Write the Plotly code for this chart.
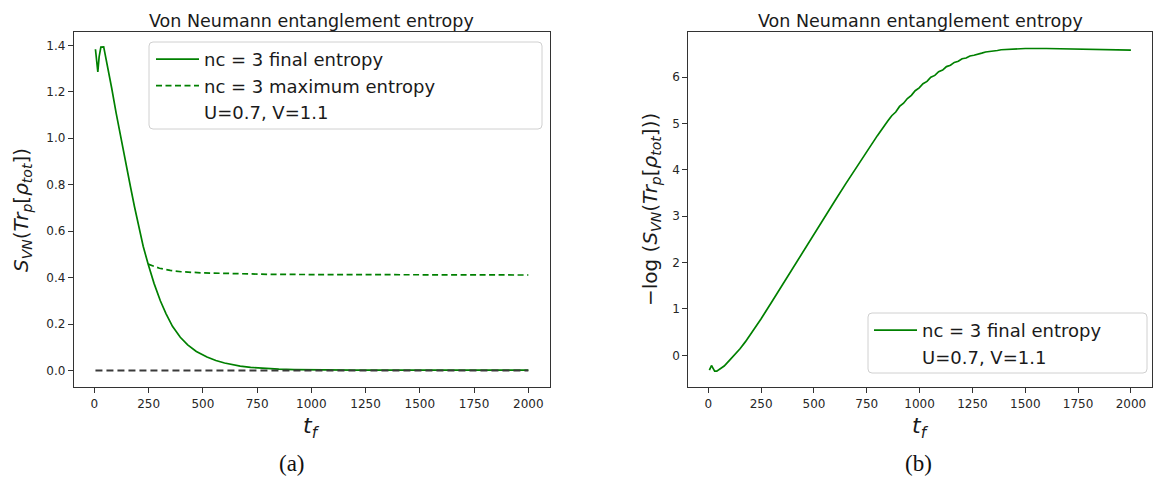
import plotly.graph_objects as go

# ---------------- data ----------------
# (a) final entropy S_VN vs t_f
tf_final = [5, 10, 16, 22, 30, 43, 55, 67, 80, 100, 117, 134, 150, 166, 185, 205, 225, 248,
            275, 304, 330, 360, 396, 430, 470, 519, 560, 600, 640, 672, 720, 780, 850, 920,
            1000, 1200, 1500, 2000]
s_final = [1.383, 1.33, 1.285, 1.35, 1.392, 1.393, 1.34, 1.287, 1.215, 1.11, 1.025, 0.94,
           0.866, 0.793, 0.705, 0.618, 0.535, 0.457, 0.375, 0.30, 0.245, 0.19, 0.143, 0.11,
           0.082, 0.058, 0.043, 0.032, 0.024, 0.019, 0.013, 0.009, 0.006, 0.004, 0.0028,
           0.0017, 0.0013, 0.0014]
# (a) maximum entropy
tf_max = [248, 275, 300, 350, 400, 500, 600, 800, 1000, 1500, 2000]
s_max = [0.458, 0.447, 0.44, 0.431, 0.425, 0.42, 0.417, 0.414, 0.413, 0.412, 0.411]
# (a) zero reference
tf_zero = [5, 2000]
s_zero = [0.0, 0.0]

# (b) -log(S_VN) vs t_f
tf_log = [5, 10, 15, 20, 25, 30, 40, 50, 75, 100, 125, 150, 175, 200, 250, 300, 350, 400,
          450, 500, 550, 600, 650, 700, 750, 800, 850, 868, 887, 905, 924, 942, 961, 979,
          998, 1016, 1035, 1053, 1072, 1090, 1109, 1127, 1146, 1164, 1183, 1201, 1220,
          1238, 1257, 1275, 1294, 1312, 1331, 1349, 1368, 1386, 1405, 1450, 1500, 1600,
          1700, 1800, 1900, 2000]
neglog_s = [-0.32, -0.27, -0.22, -0.26, -0.32, -0.34, -0.34, -0.31, -0.23, -0.11, 0.01,
            0.14, 0.29, 0.45, 0.79, 1.15, 1.52, 1.88, 2.25, 2.61, 2.98, 3.34, 3.70, 4.05,
            4.40, 4.74, 5.06, 5.17, 5.25, 5.37, 5.44, 5.54, 5.61, 5.71, 5.77, 5.86, 5.91,
            6.00, 6.04, 6.12, 6.155, 6.23, 6.26, 6.32, 6.345, 6.40, 6.415, 6.46, 6.475,
            6.505, 6.52, 6.545, 6.553, 6.572, 6.578, 6.593, 6.60, 6.615, 6.62, 6.62, 6.615,
            6.605, 6.595, 6.585]

x_ticks = [0, 250, 500, 750, 1000, 1250, 1500, 1750, 2000]
y_ticks_a = [0.0, 0.2, 0.4, 0.6, 0.8, 1.0, 1.2, 1.4]
y_ticks_b = [0, 1, 2, 3, 4, 5, 6]

title_text = "Von Neumann entanglement entropy"
param_text = "U=0.7, V=1.1"

# ---------------- figure ----------------
# the page body has an 8px margin, so the figure is drawn 8px in from the top-left
OFF = 8
W, H = 1173 - OFF, 478 - OFF
GREEN = "#008000"
FONT = "DejaVu Sans"
TXT = "#1a1a1a"


def px_x(p):
    return (p - OFF) / W


def px_y(p):
    return 1 - (p - OFF) / H


fig = go.Figure()

fig.add_trace(go.Scatter(x=tf_final, y=s_final, mode="lines", name="nc = 3 final entropy",
                         line=dict(color=GREEN, width=1.7), xaxis="x", yaxis="y",
                         legend="legend"))
fig.add_trace(go.Scatter(x=tf_max, y=s_max, mode="lines", name="nc = 3 maximum entropy",
                         line=dict(color=GREEN, width=1.7, dash="6px,3.5px"), xaxis="x", yaxis="y",
                         legend="legend"))
fig.add_trace(go.Scatter(x=tf_zero, y=s_zero, mode="lines", showlegend=False,
                         line=dict(color="#3a3a3a", width=2, dash="7px,4px"), xaxis="x", yaxis="y"))
fig.add_trace(go.Scatter(x=[None], y=[None], mode="lines", name=param_text,
                         line=dict(color="rgba(0,0,0,0)", width=1.6), xaxis="x", yaxis="y",
                         legend="legend"))

fig.add_trace(go.Scatter(x=tf_log, y=neglog_s, mode="lines", name="nc = 3 final entropy",
                         line=dict(color=GREEN, width=1.7), xaxis="x2", yaxis="y2",
                         legend="legend2"))
fig.add_trace(go.Scatter(x=[None], y=[None], mode="lines", name=param_text,
                         line=dict(color="rgba(0,0,0,0)", width=1.6), xaxis="x2", yaxis="y2",
                         legend="legend2"))

axis_common = dict(showline=True, mirror=True, linecolor="#333333", linewidth=1,
                   ticks="outside", ticklen=5, tickwidth=1, tickcolor="#333333",
                   showgrid=False, zeroline=False,
                   tickfont=dict(family=FONT, size=12, color="#262626"))

ydom = [px_y(387.3), px_y(32.3)]
xa = [73.8, 550.0]
xb = [688.3, 1152.0]

fig.update_layout(
    width=W, height=H,
    margin=dict(l=0, r=0, t=0, b=0),
    paper_bgcolor="white", plot_bgcolor="white",
    xaxis=dict(domain=[px_x(xa[0]), px_x(xa[1])], range=[-94.75, 2099.75],
               tickvals=x_ticks, anchor="y", **axis_common),
    yaxis=dict(domain=ydom, range=[-0.0725, 1.456], tickvals=y_ticks_a,
               tickformat=".1f", anchor="x", **axis_common),
    xaxis2=dict(domain=[px_x(xb[0]), px_x(xb[1])], range=[-94.75, 2099.75],
                tickvals=x_ticks, anchor="y2", **axis_common),
    yaxis2=dict(domain=ydom, range=[-0.69, 6.97], tickvals=y_ticks_b,
                anchor="x2", **axis_common),
    legend=dict(x=px_x(151), y=px_y(41), xanchor="left", yanchor="top",
                bgcolor="rgba(0,0,0,0)", borderwidth=0, itemwidth=43,
                font=dict(family=FONT, size=18, color=TXT)),
    legend2=dict(x=px_x(869), y=px_y(312), xanchor="left", yanchor="top",
                 bgcolor="rgba(0,0,0,0)", borderwidth=0, itemwidth=43,
                 font=dict(family=FONT, size=18, color=TXT)),
    showlegend=True,
)


def rounded_box(x0, y0, x1, y1, r=4):
    X = px_x
    Y = px_y
    return (f"M {X(x0 + r)},{Y(y0)} L {X(x1 - r)},{Y(y0)} Q {X(x1)},{Y(y0)} {X(x1)},{Y(y0 + r)} "
            f"L {X(x1)},{Y(y1 - r)} Q {X(x1)},{Y(y1)} {X(x1 - r)},{Y(y1)} "
            f"L {X(x0 + r)},{Y(y1)} Q {X(x0)},{Y(y1)} {X(x0)},{Y(y1 - r)} "
            f"L {X(x0)},{Y(y0 + r)} Q {X(x0)},{Y(y0)} {X(x0 + r)},{Y(y0)} Z")


fig.add_shape(type="path", path=rounded_box(149, 42, 542, 129), xref="paper", yref="paper",
              line=dict(color="#d0d0d0", width=1), fillcolor="rgba(255,255,255,0.8)", layer="above")
fig.add_shape(type="path", path=rounded_box(868, 313, 1147, 373), xref="paper", yref="paper",
              line=dict(color="#d0d0d0", width=1), fillcolor="rgba(255,255,255,0.8)", layer="above")

ann_font = dict(family=FONT, size=17.5, color=TXT)
ylab_a = "<i>S</i><sub><i>VN</i></sub>(<i>Tr</i><sub><i>p</i></sub>[<i>ρ</i><sub><i>tot</i></sub>])"
ylab_b = "−log (<i>S</i><sub><i>VN</i></sub>(<i>Tr</i><sub><i>p</i></sub>[<i>ρ</i><sub><i>tot</i></sub>]))"
xlab = "<i>t</i><sub><i>f</i></sub>"

annotations = [
    dict(text=title_text, x=px_x((xa[0] + xa[1]) / 2), y=px_y(8.5), yanchor="top", font=ann_font),
    dict(text=title_text, x=px_x((xb[0] + xb[1]) / 2), y=px_y(8.5), yanchor="top", font=ann_font),
    dict(text=xlab, x=px_x((xa[0] + xa[1]) / 2), y=px_y(427), font=dict(family=FONT, size=22, color=TXT)),
    dict(text=xlab, x=px_x((xb[0] + xb[1]) / 2), y=px_y(427), font=dict(family=FONT, size=22, color=TXT)),
    dict(text=ylab_a, x=px_x(22), y=px_y(210), textangle=-90,
         font=dict(family=FONT, size=20, color=TXT)),
    dict(text=ylab_b, x=px_x(651), y=px_y(210), textangle=-90,
         font=dict(family=FONT, size=20, color=TXT)),
    dict(text="(a)", x=px_x(292), y=px_y(463), font=dict(family="Liberation Serif", size=23, color="#111")),
    dict(text="(b)", x=px_x(918), y=px_y(463), font=dict(family="Liberation Serif", size=23, color="#111")),
]
for a in annotations:
    a.setdefault("yanchor", "middle")
    a.update(xref="paper", yref="paper", showarrow=False, xanchor="center")
fig.update_layout(annotations=annotations)

fig.write_html("out.html")
